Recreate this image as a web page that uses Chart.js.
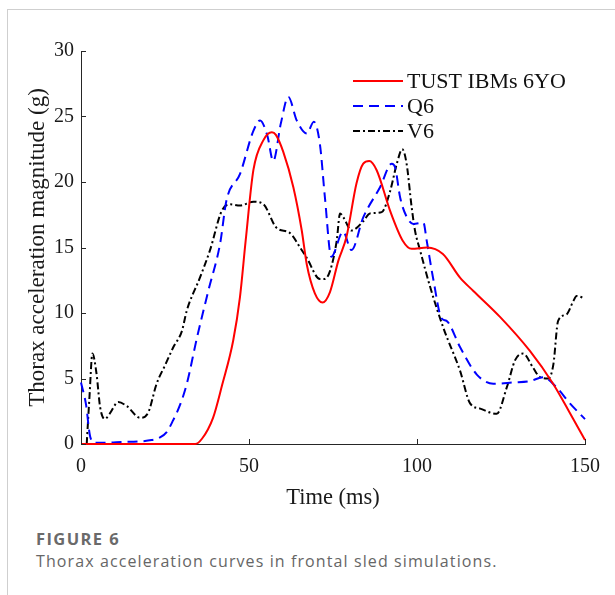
<!DOCTYPE html>
<html>
<head>
<meta charset="utf-8">
<script src="https://cdn.jsdelivr.net/npm/chart.js@4.4.0/dist/chart.umd.min.js"></script>
<style>
  body { margin: 0; background: #fff; width: 615px; height: 595px; overflow: hidden; position: relative; }
  #frame { position: absolute; left: 7px; top: 9px; width: 800px; height: 800px; border-left: 1px solid #cfcfcf; border-top: 1px solid #cfcfcf; }
  #wrap { position: absolute; left: 0; top: 0; width: 615px; height: 512px; }
  #caption { position: absolute; left: 36px; top: 528px; font-family: "Open Sans", sans-serif; color: #666; font-size: 16px; line-height: 22px; letter-spacing: 1.1px; }
  #caption b { font-size: 16.5px; font-weight: 700; color: #6a6a6a; letter-spacing: 1.4px; }
</style>
</head>
<body>
<div id="frame"></div>
<div id="wrap"><canvas id="chart" width="615" height="512"></canvas></div>
<div id="caption"><b>FIGURE 6</b><br>Thorax acceleration curves in frontal sled simulations.</div>
<script>
// Values: time in ms, thorax acceleration in g
const seriesNames = ["TUST IBMs 6YO", "Q6", "V6"];

const tustTime = [0, 34, 36, 39.3, 42, 45.3, 47.3, 49, 51.3, 54.3, 56.8, 58, 60.2, 63.2, 65.7, 67.2, 69.6, 71.9, 74.1, 76.6, 79, 82, 84, 85.8, 88, 92, 95.8, 98.4, 103, 107.7, 112.8, 116.7, 124.7, 133.6, 140.5, 145, 150];
const tustAcc = [0, 0, 0.4, 2.0, 4.5, 7.9, 11.2, 15.5, 20.9, 23.2, 23.8, 23.6, 22.3, 19.6, 16.3, 13.7, 11.5, 10.8, 11.6, 14.0, 15.8, 19.9, 21.4, 21.6, 20.9, 17.8, 15.5, 14.9, 15.0, 14.5, 12.7, 11.7, 9.7, 7.1, 4.6, 2.6, 0.3];

const q6Time = [0, 1.5, 2.7, 4.2, 8, 12, 17.6, 21, 23.5, 25.5, 27.4, 29.5, 31.5, 34.5, 37.9, 41.4, 43.3, 47.3, 51.3, 53.3, 55.5, 57.2, 59.5, 61.7, 64.2, 67.2, 69.3, 71.1, 72.6, 74.5, 78, 80.5, 84, 89, 92.5, 93.5, 95, 97, 98.9, 101.9, 102.9, 104.9, 107.3, 108.8, 112.8, 117.8, 122.7, 128.6, 133.6, 137.6, 141.6, 145.5, 150];
const q6Acc = [4.7, 3.0, 0.6, 0.1, 0.1, 0.15, 0.2, 0.3, 0.5, 0.9, 1.8, 3.0, 4.6, 8.1, 11.7, 15.3, 18.6, 20.6, 23.9, 24.7, 23.5, 21.6, 24.5, 26.5, 24.7, 23.7, 24.6, 22.9, 18.8, 14.3, 16.2, 14.8, 17.3, 19.6, 21.4, 21.1, 18.8, 17.3, 16.8, 16.9, 15.5, 12.5, 9.6, 9.4, 7.4, 5.3, 4.6, 4.7, 4.8, 5.1, 4.3, 3.1, 1.9];

const v6Time = [1.7, 2.5, 3.4, 4.6, 5.7, 7.1, 8.5, 11.1, 13.6, 17.6, 20, 22.5, 25, 27.5, 30, 31.5, 35.4, 38.4, 41.9, 44.4, 47.3, 51.3, 54.3, 58.2, 62.2, 65.2, 67.2, 71.1, 72.5, 74.1, 76.1, 77.1, 78.1, 80.5, 84, 86, 89.5, 92, 94, 95.6, 96.9, 98.4, 99.4, 100.9, 103.9, 107.8, 112.8, 115.8, 118.8, 123.7, 126.7, 129.2, 131.6, 134.6, 136.6, 139.1, 140.6, 142, 144.5, 146.5, 147.5, 150];
const v6Acc = [0, 3.5, 6.9, 5.4, 2.8, 1.9, 2.3, 3.2, 2.9, 2.0, 2.4, 4.6, 6.0, 7.4, 8.6, 10.2, 12.7, 14.8, 17.8, 18.3, 18.2, 18.5, 18.3, 16.5, 16.1, 15.0, 14.2, 12.6, 12.6, 13.2, 15.5, 17.6, 17.3, 16.3, 17.0, 17.6, 17.7, 19.3, 21.4, 22.5, 21.4, 18.1, 16.3, 14.8, 12.0, 8.9, 5.6, 3.1, 2.7, 2.3, 4.3, 6.4, 6.9, 5.8, 5.1, 5.0, 6.1, 9.4, 9.9, 10.9, 11.3, 11.1];

const xTicks = [0, 50, 100, 150];
const yTicks = [0, 5, 10, 15, 20, 25, 30];

function pairs(xs, ys) {
  return xs.map((x, i) => ({ x: x, y: ys[i] }));
}

Chart.defaults.font.family = "'Liberation Serif', 'Times New Roman', serif";
Chart.defaults.color = "#1a1a1a";

// MATLAB style: short tick marks pointing into the plot
const inwardTicks = {
  id: "inwardTicks",
  afterDraw(chart) {
    const ctx = chart.ctx;
    const area = chart.chartArea;
    const xs = chart.scales.x, ys = chart.scales.y;
    ctx.save();
    ctx.strokeStyle = "#262626";
    ctx.lineWidth = 1;
    ctx.beginPath();
    xTicks.forEach(v => {
      const px = Math.round(xs.getPixelForValue(v)) + 0.5;
      ctx.moveTo(px, area.bottom);
      ctx.lineTo(px, area.bottom - 5);
    });
    yTicks.forEach(v => {
      const py = Math.round(ys.getPixelForValue(v)) + 0.5;
      ctx.moveTo(area.left, py);
      ctx.lineTo(area.left + 5, py);
    });
    ctx.stroke();
    ctx.restore();
  }
};

// legend box drawn inside the plot, top right
const innerLegend = {
  id: "innerLegend",
  afterDraw(chart) {
    const ctx = chart.ctx;
    const area = chart.chartArea;
    const x0 = area.right - 232;
    const y0 = area.top + 30;
    ctx.save();
    ctx.font = "22px 'Liberation Serif'";
    ctx.textBaseline = "middle";
    chart.data.datasets.forEach((ds, i) => {
      const y = y0 + i * 25;
      ctx.strokeStyle = ds.borderColor;
      ctx.lineWidth = ds.borderWidth;
      ctx.setLineDash(ds.borderDash || []);
      ctx.beginPath();
      ctx.moveTo(x0, y);
      ctx.lineTo(x0 + 50, y);
      ctx.stroke();
      ctx.fillStyle = "#111";
      ctx.fillText(ds.label, x0 + 54, y + 1);
    });
    ctx.restore();
  }
};

new Chart(document.getElementById("chart"), {
  type: "line",
  data: {
    datasets: [
      { label: seriesNames[0], data: pairs(tustTime, tustAcc), borderColor: "#ff0000", borderWidth: 2, borderDash: [] },
      { label: seriesNames[1], data: pairs(q6Time, q6Acc), borderColor: "#0000ff", borderWidth: 2, borderDash: [10, 6] },
      { label: seriesNames[2], data: pairs(v6Time, v6Acc), borderColor: "#000000", borderWidth: 2, borderDash: [7, 3, 2, 3] }
    ]
  },
  options: {
    responsive: false,
    animation: false,
    events: [],
    layout: { padding: { top: 51, right: 30, left: 24, bottom: 0 } },
    elements: {
      point: { radius: 0 },
      line: { cubicInterpolationMode: "monotone", fill: false }
    },
    datasets: { line: { clip: false } },
    plugins: { legend: { display: false }, tooltip: { enabled: false } },
    scales: {
      x: {
        type: "linear",
        min: 0, max: 150,
        afterBuildTicks: s => { s.ticks = xTicks.map(v => ({ value: v })); },
        afterFit: s => { s.height = 68; },
        grid: { display: true, drawOnChartArea: false, drawTicks: false },
        border: { display: true, color: "#262626", width: 1 },
        ticks: { font: { size: 20 }, padding: 11, maxRotation: 0 },
        title: { display: true, text: "Time (ms)", font: { size: 22.5 }, padding: { top: 2, bottom: 0 } }
      },
      y: {
        min: 0, max: 30,
        afterBuildTicks: s => { s.ticks = yTicks.map(v => ({ value: v })); },
        afterFit: s => { s.width = 57; },
        grid: { display: true, drawOnChartArea: false, drawTicks: false },
        border: { display: true, color: "#262626", width: 1 },
        ticks: { font: { size: 20 }, padding: 7 },
        title: { display: true, text: "Thorax acceleration magnitude (g)", font: { size: 23 }, padding: { top: 0, bottom: 4 } }
      }
    }
  },
  plugins: [inwardTicks, innerLegend]
});
</script>
</body>
</html>
